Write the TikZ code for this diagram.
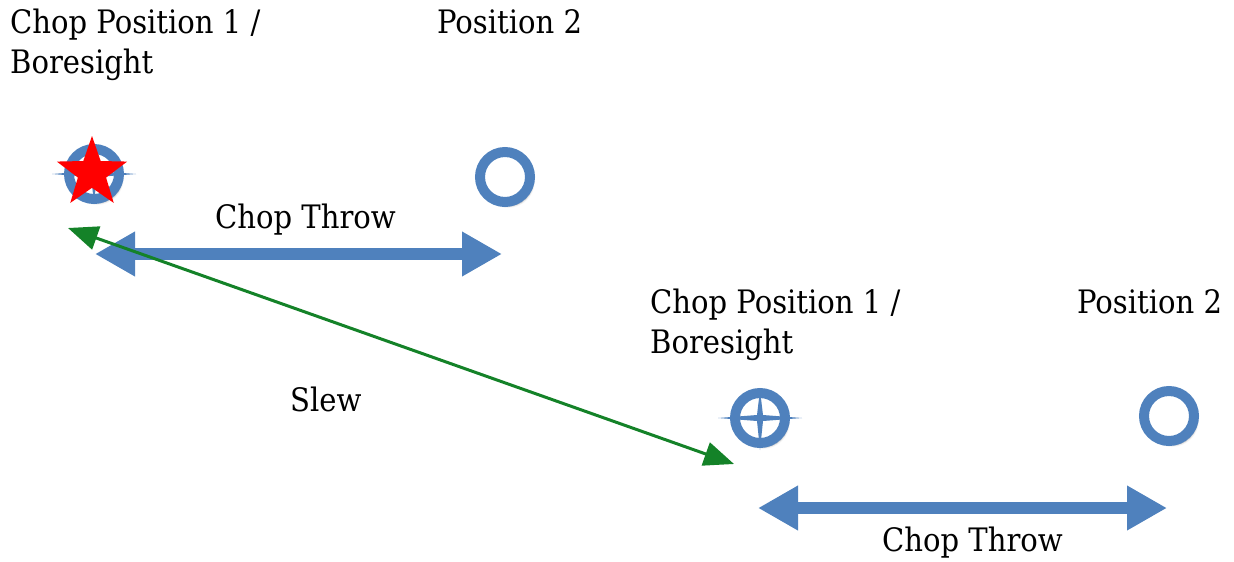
\documentclass[tikz,border=0pt]{standalone}
\usepackage{fontspec}
\setmainfont{DejaVu Serif Condensed}
\usetikzlibrary{arrows.meta,shapes.geometric,shadows.blur}
\definecolor{ringblue}{RGB}{79,129,189}
\definecolor{slewgreen}{RGB}{20,130,40}
\begin{document}
\begin{tikzpicture}[x=1pt,y=-1pt,
  lbl/.style={font=\fontsize{32.3}{38}\selectfont, inner sep=0pt, anchor=base west},
  ring/.style={circle, draw=ringblue, fill=white, line width=10pt, minimum size=50pt, inner sep=0pt,
    blur shadow={shadow xshift=3pt, shadow yshift=-4pt, shadow blur steps=6, shadow opacity=35}},
  spikes/.style={fill=ringblue},
  throw/.style={draw=ringblue, line width=12pt, {Triangle[length=40pt,width=42pt]}-{Triangle[length=40pt,width=42pt]}},
  slew/.style={draw=slewgreen, line width=3pt, {Triangle[length=30pt,width=24pt]}-{Triangle[length=30pt,width=24pt]}},
  redstar/.style={star, star points=5, star point ratio=2.5, minimum size=74pt, fill=red, inner sep=0pt}]
\useasboundingbox (0,0) rectangle (1234,562);
% labels
\node[lbl] (l1a) at (10,33) {Chop Position 1 /};
\node[lbl] (l1b) at (10,73) {Boresight};
\node[lbl] (l1c) at (437,33) {Position 2};
\node[lbl] (l2a) at (650,313) {Chop Position 1 /};
\node[lbl] (l2b) at (650,353) {Boresight};
\node[lbl] (l2c) at (1077,313) {Position 2};
\node[lbl] (ct1) at (215,228) {Chop Throw};
\node[lbl] (ct2) at (882,551) {Chop Throw};
\node[lbl] (sl) at (290,411) {Slew};
% targets
\node[ring] (t1) at (94,174) {};
\fill[spikes] (t1.center) +(-42,0) -- +(-3,-3) -- +(0,-28) -- +(3,-3) -- +(42,0) -- +(3,3) -- +(0,28) -- +(-3,3) -- cycle;
\node[redstar] (st) at (92,173) {};
\node[ring] (p1) at (505,177) {};
\node[ring] (t2) at (760,418) {};
\fill[spikes] (t2.center) +(-42,0) -- +(-3,-3) -- +(0,-28) -- +(3,-3) -- +(42,0) -- +(3,3) -- +(0,32) -- +(-3,3) -- cycle;
\node[ring] (p2) at (1169,416) {};
% throws
\coordinate (a1) at (95,254);
\coordinate (b1) at (502,254);
\coordinate (a2) at (758,508);
\coordinate (b2) at (1167,508);
\draw[throw] (a1) -- (b1);
\draw[throw] (a2) -- (b2);
% slew
\coordinate (s1) at (68,228);
\coordinate (s2) at (734,464);
\draw[slew] (s1) -- (s2);
\end{tikzpicture}
\end{document}
